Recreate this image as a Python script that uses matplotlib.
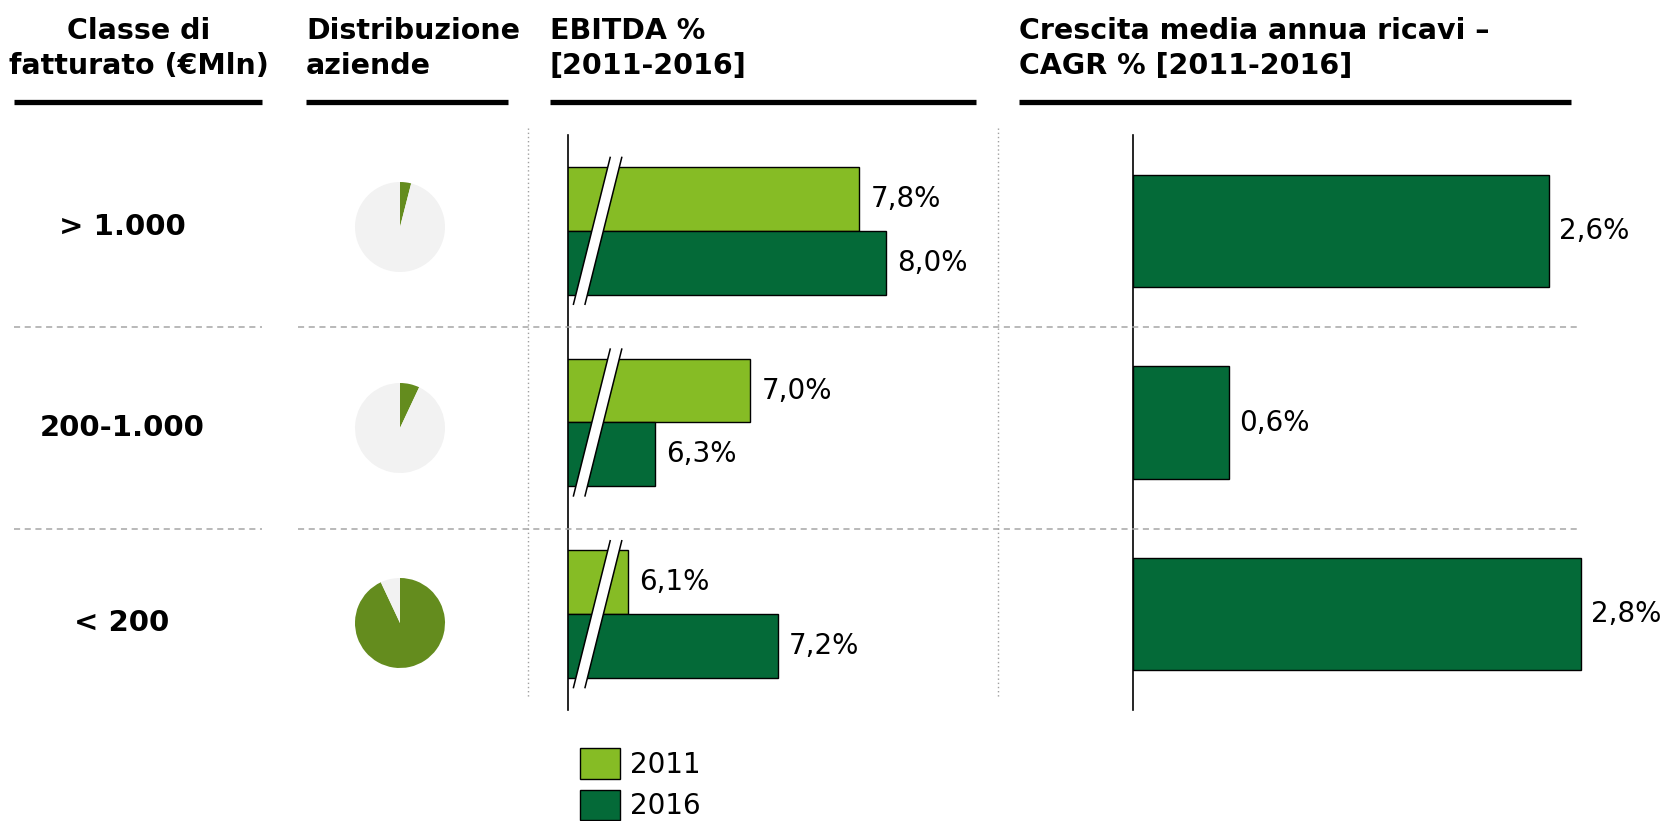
import matplotlib
matplotlib.use("Agg")
import matplotlib.pyplot as plt
from matplotlib.lines import Line2D
from matplotlib.patches import Polygon

# data
classes = ["> 1.000", "200-1.000", "< 200"]
share_companies = [4, 7, 93]          # % of companies per revenue class
ebitda_2011 = [7.8, 7.0, 6.1]
ebitda_2016 = [8.0, 6.3, 7.2]
cagr = [2.6, 0.6, 2.8]
years = ["2011", "2016"]

headers = [
    ("Classe di\nfatturato (€Mln)", 131, "center"),
    ("Distribuzione\naziende", 306, "left"),
    ("EBITDA %\n[2011-2016]", 550, "left"),
    ("Crescita media annua ricavi –\nCAGR % [2011-2016]", 1019, "left"),
]
header_rules = [(14, 262), (306, 508), (550, 976), (1019, 1571)]

C2011 = "#86BC25"
C2016 = "#046A38"
CPIE = "#648C1E"
CGREY = "#F2F2F2"

W, H = 1669, 821
plt.rcParams["font.family"] = ["DejaVu Sans"]
fig = plt.figure(figsize=(W / 100, H / 100), dpi=100)


def fx(px):
    return px / W


def fy(py):
    return 1 - py / H


# headers
for txt, x, ha in headers:
    fig.text(fx(x + (8 if ha == "center" else 0)), fy(17), txt, ha=ha,
             va="top", fontsize=20.5, fontweight="bold", multialignment=ha,
             linespacing=1.33)
for x0, x1 in header_rules:
    fig.add_artist(Line2D([fx(x0), fx(x1)], [fy(102), fy(102)],
                          color="black", lw=3.8, solid_capstyle="butt"))

# separators
for y in (327, 529):
    fig.add_artist(Line2D([fx(14), fx(262)], [fy(y), fy(y)], color="#A6A6A6",
                          lw=1.1, ls=(0, (4, 3))))
    fig.add_artist(Line2D([fx(298), fx(1581)], [fy(y), fy(y)], color="#A6A6A6",
                          lw=1.1, ls=(0, (4, 3))))
for x in (528, 998):
    fig.add_artist(Line2D([fx(x), fx(x)], [fy(128), fy(697)], color="#A0A0A0",
                          lw=1.0, ls=(0, (1, 2))))

# row labels and pies
row_y = [227, 428, 623]
for lab, share, cy in zip(classes, share_companies, row_y):
    fig.text(fx(122), fy(cy), lab, ha="center", va="center",
             fontsize=21, fontweight="bold")
    pax = fig.add_axes([fx(355), fy(cy + 45), 90 / W, 90 / H])
    pax.pie([share, 100 - share], colors=[CPIE, CGREY], startangle=90,
            counterclock=False, radius=1)
    pax.set_xlim(-1, 1)
    pax.set_ylim(-1, 1)
    pax.axis("off")


def style(ax):
    for s in ("top", "right", "bottom"):
        ax.spines[s].set_visible(False)
    ax.spines["left"].set_linewidth(1.2)
    ax.set_xticks([])
    ax.set_yticks([])
    ax.patch.set_alpha(0)
    ax.set_ylim(2.5, -0.5)


# EBITDA panel (broken axis)
xmin = 5.66
ax1 = fig.add_axes([fx(568), fy(710), (976 - 568) / W, (710 - 135) / H])
style(ax1)
ax1.set_xlim(xmin, xmin + 408 / 136.1)
pos = list(range(len(classes)))
bh = 0.333
b1 = ax1.barh([p - bh / 2 for p in pos], ebitda_2011, height=bh, color=C2011,
              edgecolor="black", lw=1.0, label=years[0])
b2 = ax1.barh([p + bh / 2 for p in pos], ebitda_2016, height=bh, color=C2016,
              edgecolor="black", lw=1.0, label=years[1])
for p, v1, v2 in zip(pos, ebitda_2011, ebitda_2016):
    ax1.annotate(f"{v1:.1f}%".replace(".", ","), (v1, p - bh / 2),
                 xytext=(8, 0), textcoords="offset points", va="center",
                 fontsize=20)
    ax1.annotate(f"{v2:.1f}%".replace(".", ","), (v2, p + bh / 2),
                 xytext=(8, 0), textcoords="offset points", va="center",
                 fontsize=20)
    # break mark
    yt, yb = p - bh - 0.05, p + bh + 0.05
    xt, xb, w = xmin + 0.31, xmin + 0.04, 0.085
    ax1.add_patch(Polygon([(xt, yt), (xt + w, yt), (xb + w, yb), (xb, yb)],
                          closed=True, facecolor="white", edgecolor="none",
                          zorder=5, clip_on=False))
    ax1.plot([xt, xb], [yt, yb], color="black", lw=1.1, zorder=6, clip_on=False)
    ax1.plot([xt + w, xb + w], [yt, yb], color="black", lw=1.1, zorder=6,
             clip_on=False)

# CAGR panel
ax2 = fig.add_axes([fx(1133), fy(710), (W - 1133) / W, (710 - 135) / H])
style(ax2)
ax2.set_xlim(0, (W - 1133) / 160.1)
ax2.barh(pos, cagr, height=0.585, color=C2016, edgecolor="black", lw=1.0)
for p, v in zip(pos, cagr):
    ax2.annotate(f"{v:.1f}%".replace(".", ","), (v, p), xytext=(7, 0),
                 textcoords="offset points", va="center", fontsize=20)

# legend
fig.legend(handles=[b1, b2], labels=years, loc="upper left",
           bbox_to_anchor=(fx(580), fy(748)), frameon=False, fontsize=20,
           handlelength=1.44, handleheight=1.32, handletextpad=0.36,
           labelspacing=0.4, borderpad=0, borderaxespad=0)

fig.savefig("out.png", dpi=100)
